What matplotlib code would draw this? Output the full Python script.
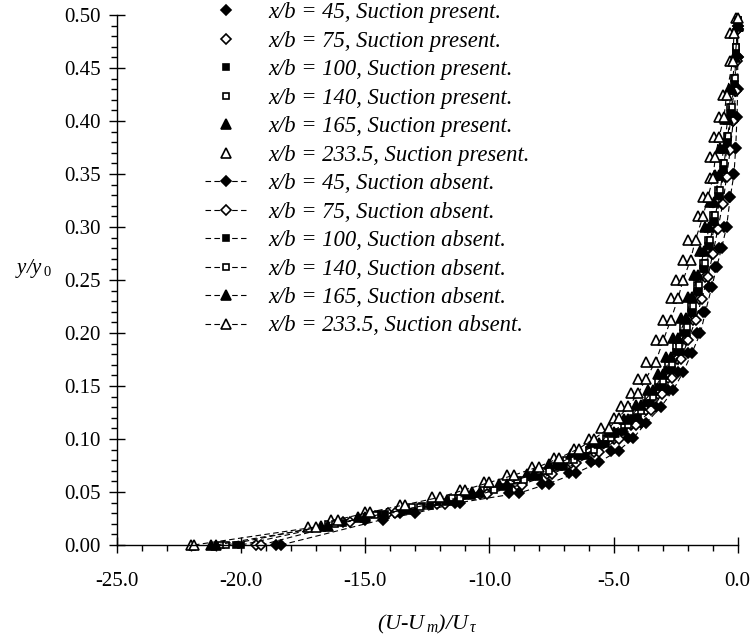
import matplotlib
matplotlib.use("Agg")
import matplotlib.pyplot as plt
from matplotlib.ticker import MultipleLocator, FormatStrFormatter

plt.rcParams['font.family'] = ['Liberation Serif', 'DejaVu Serif']
plt.rcParams['mathtext.fontset'] = 'custom'
plt.rcParams['mathtext.rm'] = 'Liberation Serif'
plt.rcParams['mathtext.it'] = 'Liberation Serif:italic'

# stations x/b
stations = ['45', '75', '100', '140', '165', '233.5']

# y/y0 positions for each station
y_45 = [0, 0.024, 0.030, 0.040, 0.049, 0.058, 0.068, 0.078, 0.089, 0.101, 0.115, 0.130, 0.146, 0.163,
        0.181, 0.200, 0.220, 0.243, 0.262, 0.280, 0.300, 0.328, 0.350, 0.375, 0.404, 0.430, 0.460, 0.490]
y_75 = [0, 0.022, 0.030, 0.039, 0.048, 0.057, 0.067, 0.077, 0.088, 0.100, 0.113, 0.127, 0.142, 0.158,
        0.175, 0.193, 0.212, 0.232, 0.253, 0.275, 0.298, 0.322, 0.347, 0.373, 0.400, 0.428, 0.457, 0.487]
y_100 = [0, 0.021, 0.029, 0.037, 0.046, 0.055, 0.064, 0.074, 0.084, 0.095, 0.107, 0.120, 0.134, 0.149,
         0.165, 0.182, 0.200, 0.219, 0.239, 0.260, 0.282, 0.305, 0.329, 0.354, 0.380, 0.407, 0.435, 0.464, 0.493]
y_140 = [0, 0.020, 0.028, 0.036, 0.044, 0.052, 0.061, 0.070, 0.080, 0.090, 0.101, 0.113, 0.126, 0.140,
         0.155, 0.171, 0.188, 0.206, 0.225, 0.245, 0.266, 0.288, 0.311, 0.335, 0.360, 0.386, 0.413, 0.441,
         0.470, 0.495]
y_165 = [0, 0.018, 0.026, 0.034, 0.042, 0.050, 0.058, 0.067, 0.076, 0.086, 0.096, 0.107, 0.119, 0.132,
         0.146, 0.161, 0.177, 0.195, 0.214, 0.234, 0.255, 0.277, 0.300, 0.324, 0.349, 0.375, 0.402, 0.430,
         0.460, 0.490]
y_233 = [0, 0.017, 0.024, 0.031, 0.038, 0.045, 0.052, 0.059, 0.066, 0.074, 0.082, 0.091, 0.100, 0.110,
         0.120, 0.131, 0.143, 0.157, 0.173, 0.193, 0.212, 0.233, 0.250, 0.269, 0.288, 0.310, 0.328, 0.346,
         0.366, 0.385, 0.404, 0.425, 0.457, 0.483, 0.497]

# (U-Um)/Utau, suction present
u_45_on = [-18.6, -15.0, -13.6, -11.4, -9.2, -7.9, -6.8, -5.9, -5.1, -4.4, -3.9, -3.3, -2.8, -2.4,
           -2.0, -1.65, -1.4, -1.15, -0.9, -0.75, -0.55, -0.35, -0.2, -0.1, -0.05, -0.02, 0.0, 0.0]
u_75_on = [-19.4, -15.9, -14.1, -12.1, -10.4, -8.9, -7.7, -6.7, -5.8, -5.0, -4.3, -3.7, -3.2, -2.8,
           -2.45, -2.1, -1.8, -1.55, -1.3, -1.05, -0.85, -0.65, -0.5, -0.35, -0.2, -0.1, -0.05, 0.0]
u_100_on = [-20.2, -16.2, -14.5, -12.7, -11.0, -9.5, -8.3, -7.2, -6.3, -5.5, -4.8, -4.2, -3.7, -3.2,
            -2.85, -2.5, -2.2, -1.9, -1.65, -1.4, -1.2, -1.0, -0.8, -0.6, -0.45, -0.3, -0.15, -0.07, 0.0]
u_140_on = [-20.8, -16.5, -14.9, -13.1, -11.5, -10.1, -8.9, -7.8, -6.9, -6.0, -5.3, -4.6, -4.1, -3.6,
            -3.2, -2.8, -2.5, -2.2, -1.9, -1.65, -1.4, -1.2, -1.0, -0.8, -0.6, -0.45, -0.3, -0.15, -0.05, 0.0]
u_165_on = [-21.2, -16.8, -15.3, -13.6, -12.0, -10.7, -9.6, -8.5, -7.6, -6.7, -5.9, -5.2, -4.6, -4.1,
            -3.6, -3.2, -2.9, -2.6, -2.3, -2.0, -1.75, -1.5, -1.3, -1.1, -0.9, -0.7, -0.5, -0.35, -0.15, 0.0]
u_233_on = [-22.0, -17.3, -16.4, -15.0, -13.6, -12.3, -11.2, -10.2, -9.3, -8.3, -7.4, -6.6, -6.0, -5.5,
            -5.0, -4.7, -4.3, -4.0, -3.7, -3.3, -3.0, -2.7, -2.5, -2.2, -2.0, -1.6, -1.4, -1.1, -1.1, -0.95,
            -0.76, -0.6, -0.3, -0.3, -0.05]

# (U-Um)/Utau, suction absent
u_45_off = [-18.4, -14.3, -13.0, -11.2, -8.8, -7.6, -6.5, -5.6, -4.8, -4.2, -3.7, -3.1, -2.6, -2.2,
            -1.85, -1.5, -1.3, -1.05, -0.85, -0.65, -0.45, -0.3, -0.15, -0.08, -0.03, 0.0, 0.0, 0.0]
u_75_off = [-19.2, -15.6, -13.8, -11.8, -10.1, -8.7, -7.5, -6.5, -5.6, -4.8, -4.1, -3.5, -3.05, -2.65,
            -2.3, -2.0, -1.7, -1.45, -1.2, -1.0, -0.8, -0.6, -0.45, -0.3, -0.18, -0.08, -0.03, 0.0]
u_100_off = [-20.0, -15.9, -14.2, -12.4, -10.7, -9.2, -8.0, -7.0, -6.1, -5.3, -4.6, -4.0, -3.5, -3.0,
             -2.65, -2.3, -2.05, -1.8, -1.55, -1.3, -1.1, -0.9, -0.7, -0.55, -0.4, -0.25, -0.12, -0.05, 0.0]
u_140_off = [-20.6, -16.2, -14.6, -12.8, -11.2, -9.8, -8.6, -7.6, -6.6, -5.8, -5.1, -4.4, -3.9, -3.4,
             -3.0, -2.65, -2.35, -2.05, -1.8, -1.55, -1.3, -1.1, -0.9, -0.7, -0.55, -0.4, -0.25, -0.12,
             -0.05, 0.0]
u_165_off = [-21.0, -16.5, -15.0, -13.3, -11.7, -10.4, -9.3, -8.2, -7.3, -6.4, -5.6, -5.0, -4.4, -3.9,
             -3.4, -3.0, -2.7, -2.4, -2.1, -1.85, -1.6, -1.35, -1.15, -0.95, -0.75, -0.55, -0.4, -0.25,
             -0.1, 0.0]
u_233_off = [-21.9, -17.0, -16.1, -14.8, -13.4, -12.0, -11.0, -10.0, -9.0, -8.0, -7.2, -6.4, -5.8, -5.2,
             -4.8, -4.4, -4.0, -3.7, -3.3, -3.0, -2.7, -2.4, -2.2, -1.9, -1.7, -1.4, -1.2, -1.0, -0.9,
             -0.75, -0.55, -0.45, -0.2, -0.15, 0.0]

y_sets = [y_45, y_75, y_100, y_140, y_165, y_233]
u_on = [u_45_on, u_75_on, u_100_on, u_140_on, u_165_on, u_233_on]
u_off = [u_45_off, u_75_off, u_100_off, u_140_off, u_165_off, u_233_off]

# marker style per station
markers = ['D', 'D', 's', 's', '^', '^']
fills = ['k', 'w', 'k', 'w', 'k', 'w']
msizes = [5, 5, 5, 5, 6.5, 6.5]

fig = plt.figure(figsize=(7.52, 6.36), dpi=100)
ax = fig.add_axes([0.1556, 0.1431, 0.8254, 0.8333])

for i, st in enumerate(stations):
    ax.plot(u_on[i], y_sets[i], linestyle='none', marker=markers[i], ms=msizes[i],
            mfc=fills[i], mec='k', mew=1.2, clip_on=False,
            label='x/b = ' + st + ', Suction present.')
for i, st in enumerate(stations):
    ax.plot(u_off[i], y_sets[i], linestyle='--', dashes=(5, 3), color='k', lw=0.8,
            marker=markers[i], ms=msizes[i], mfc=fills[i], mec='k', mew=1.2, clip_on=False,
            label='x/b = ' + st + ', Suction absent.')

ax.set_xlim(-25, 0)
ax.set_ylim(0, 0.5)
ax.xaxis.set_major_locator(MultipleLocator(5))
ax.xaxis.set_minor_locator(MultipleLocator(1))
ax.yaxis.set_major_locator(MultipleLocator(0.05))
ax.yaxis.set_minor_locator(MultipleLocator(0.01))
ax.xaxis.set_major_formatter(FormatStrFormatter('%.1f'))
ax.yaxis.set_major_formatter(FormatStrFormatter('%.2f'))

for side in ['top', 'right']:
    ax.spines[side].set_visible(False)
for side in ['left', 'bottom']:
    ax.spines[side].set_linewidth(1.0)

ax.tick_params(which='major', direction='inout', length=11, width=1.0, labelsize=15, pad=6)
ax.tick_params(which='minor', direction='out', length=4, width=1.0)
ax.tick_params(axis='x', which='major', pad=14)

ax.set_xlabel('(U-U$_{\\,m}$)/U$_{\\,\\tau}$', fontsize=16, style='italic', labelpad=16)
ax.set_ylabel('y/y$_{\\,0}$', fontsize=15, style='italic', rotation=0, labelpad=0)
ax.yaxis.set_label_coords(-0.135, 0.5)

leg = ax.legend(loc='upper left', bbox_to_anchor=(0.142, 1.024), frameon=False,
                numpoints=1, handlelength=1.8, handletextpad=1.0, labelspacing=0.33,
                borderaxespad=0, borderpad=0,
                prop={'family': 'Liberation Serif', 'style': 'italic', 'size': 16.3})

plt.savefig('out.png', dpi=100)
